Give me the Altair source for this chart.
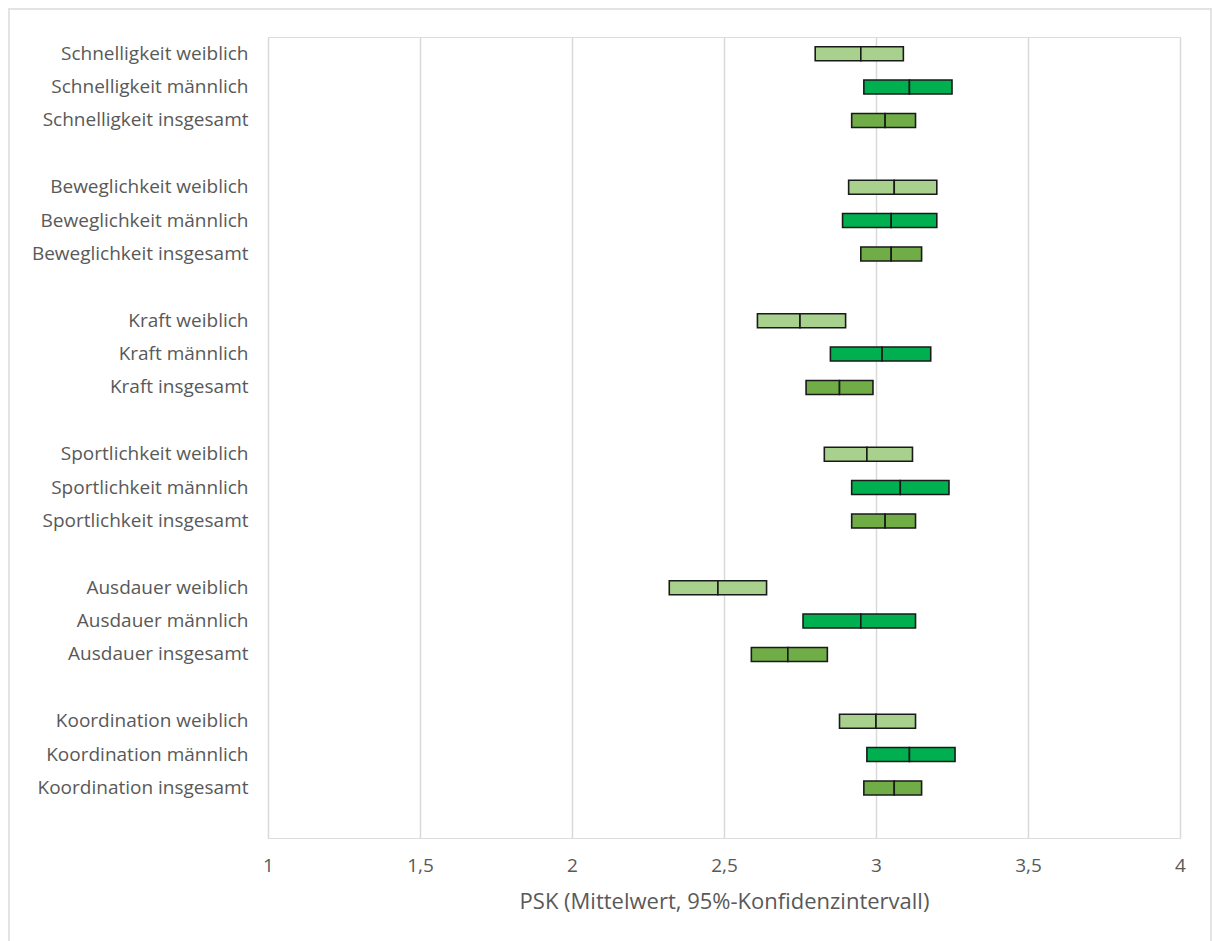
import altair as alt
import pandas as pd

# Motor domains, each shown for female, male and overall
domains = ["Schnelligkeit", "Beweglichkeit", "Kraft", "Sportlichkeit", "Ausdauer", "Koordination"]
groups = ["weiblich", "männlich", "insgesamt"]

# 95% CI lower bound, mean and upper bound per domain (order: weiblich, männlich, insgesamt)
lower = [
    [2.80, 2.96, 2.92],
    [2.91, 2.89, 2.95],
    [2.61, 2.85, 2.77],
    [2.83, 2.92, 2.92],
    [2.32, 2.76, 2.59],
    [2.88, 2.97, 2.96],
]
mean = [
    [2.95, 3.11, 3.03],
    [3.06, 3.05, 3.05],
    [2.75, 3.02, 2.88],
    [2.97, 3.08, 3.03],
    [2.48, 2.95, 2.71],
    [3.00, 3.11, 3.06],
]
upper = [
    [3.09, 3.25, 3.13],
    [3.20, 3.20, 3.15],
    [2.90, 3.18, 2.99],
    [3.12, 3.24, 3.13],
    [2.64, 3.13, 2.84],
    [3.13, 3.26, 3.15],
]

group_colors = ["#A9D18E", "#00B050", "#70AD47"]

rows = []
order = []
for d_i, dom in enumerate(domains):
    for g_i, grp in enumerate(groups):
        label = f"{dom} {grp}"
        order.append(label)
        lo, m, hi = lower[d_i][g_i], mean[d_i][g_i], upper[d_i][g_i]
        rows.append({"label": label, "group": grp, "start": lo, "end": m})
        rows.append({"label": label, "group": grp, "start": m, "end": hi})
    # empty slot between the domain blocks
    order.append(" " * (d_i + 1))

df = pd.DataFrame(rows)

FONT = "Open Sans"
GREY = "#595959"

bars = alt.Chart(df).mark_bar(size=14, stroke="#1a1a1a", strokeWidth=1.6).encode(
    x=alt.X(
        "start:Q",
        scale=alt.Scale(domain=[1, 4], nice=False, zero=False),
        axis=alt.Axis(
            values=[1, 1.5, 2, 2.5, 3, 3.5, 4],
            labelExpr="replace(format(datum.value, ''), '.', ',')",
            title="PSK (Mittelwert, 95%-Konfidenzintervall)",
            grid=True,
            gridColor="#D9D9D9",
            gridWidth=1.5,
            domain=False,
            ticks=False,
            labelFlush=False,
            labelPadding=18,
            titlePadding=16,
            labelFont=FONT,
            labelFontSize=19,
            labelColor=GREY,
            titleFont=FONT,
            titleFontSize=22,
            titleFontWeight="normal",
            titleColor=GREY,
        ),
    ),
    x2="end:Q",
    y=alt.Y(
        "label:N",
        sort=order,
        scale=alt.Scale(domain=order, paddingInner=0, paddingOuter=0),
        axis=alt.Axis(
            title=None,
            domain=False,
            ticks=False,
            grid=False,
            labelPadding=20,
            labelLimit=400,
            labelFont=FONT,
            labelFontSize=19,
            labelColor=GREY,
            labelAlign="right",
        ),
    ),
    color=alt.Color(
        "group:N",
        scale=alt.Scale(domain=groups, range=group_colors),
        legend=None,
    ),
)

# light frame around the whole graphic
frame = alt.Chart(pd.DataFrame({"k": [0]})).mark_rect(
    fill="transparent", stroke="#E3E3E3", strokeWidth=2, clip=False
).encode(
    x=alt.value(-259), x2=alt.value(943), y=alt.value(-28), y2=alt.value(910)
)

chart = (
    alt.layer(frame, bars)
    .properties(
        width=912,
        height=801,
        autosize=alt.AutoSizeParams(type="none"),
        padding={"left": 268, "top": 37, "right": 32, "bottom": 103},
    )
    .configure_view(stroke="transparent", strokeWidth=0)
    .configure(background="white")
)

chart.save("out.html", embed_options={"renderer": "svg", "actions": False})
